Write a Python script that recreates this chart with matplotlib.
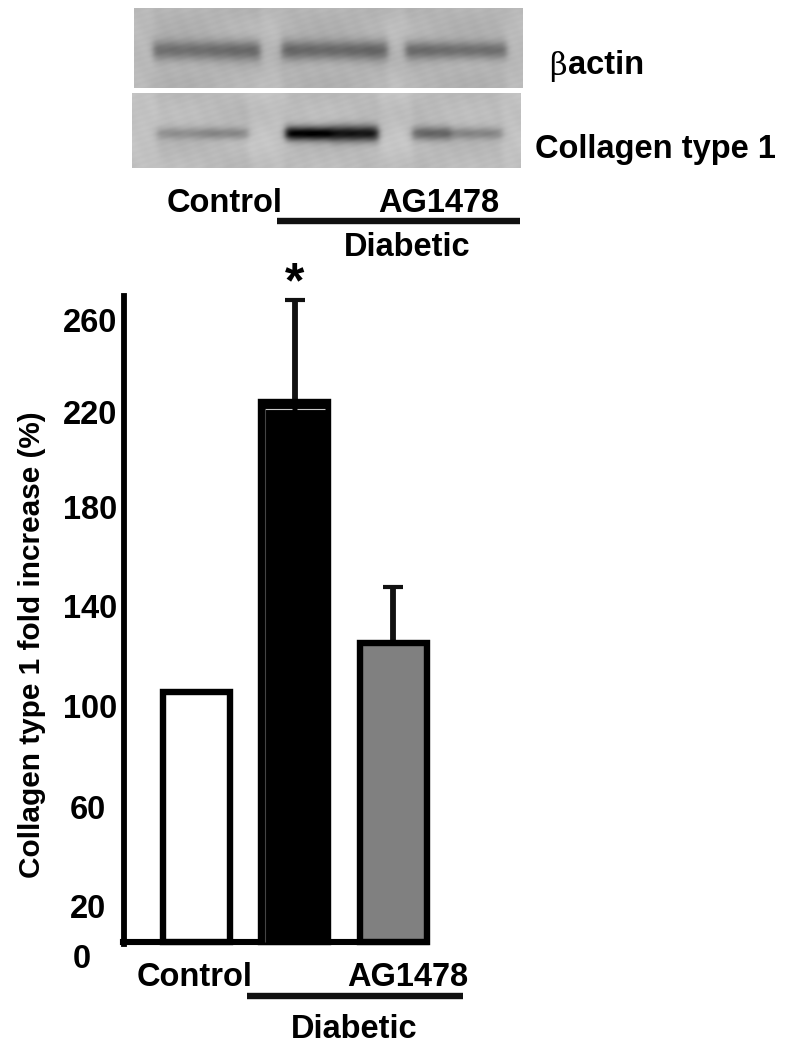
import numpy as np
import matplotlib
matplotlib.use("Agg")
import matplotlib.pyplot as plt

plt.rcParams["font.family"] = ["Liberation Sans", "DejaVu Sans"]
plt.rcParams["font.weight"] = "bold"

W, H = 789, 1050

# bar chart values
groups = ["Control", "Diabetic", "AG1478"]
values = [101.5, 219.5, 121.5]
errors = [0, 41.5, 23]
bar_colors = ["white", "black", "#808080"]

# tick labels are printed lower than their true height in the original
tick_labels = ["260", "220", "180", "140", "100", "60", "20", "0"]
tick_heights = [253, 215.3, 176.8, 136.5, 96, 54.8, 14.8, -5.5]
tick_pads = [24.8, 24.8, 24.8, 24.8, 24.8, 26.6, 26.6, 30.6]

# western blot lanes: start px, end px, darkness, band half height
actin_lanes = [(153, 260, 72, 10), (281, 387, 78, 10), (405, 506, 72, 9)]
collagen_lanes = [(157, 200, 40, 6), (200, 248, 52, 6), (285, 330, 185, 7), (330, 378, 165, 8),
                  (412, 450, 85, 7), (450, 502, 50, 6)]


def fx(px):
    return px / W


def fy(py):
    return 1 - py / H


def blot(x0, x1, y0, y1, lanes, band_y, bg, wash):
    # smooth grey panel with one dark band per lane
    xs = np.arange(x0, x1)
    ys = np.arange(y0, y1)
    xx, yy = np.meshgrid(xs, ys)
    img = np.full(xx.shape, float(bg))
    img += 5 * np.sin(xx / 23.0) * np.cos(yy / 9.0) + 3 * np.sin(xx / 3.1 + yy / 2.3) * np.cos(yy / 1.7)
    for a, b, dark, half in lanes:
        across = np.exp(-((yy - band_y) / half) ** 2)
        along = 0.5 * (np.tanh((xx - a) / 4.0) - np.tanh((xx - b) / 4.0))
        img -= (dark * across + wash) * along
    ax_b = fig.add_axes([fx(x0), fy(y1), fx(x1 - x0), (y1 - y0) / H])
    ax_b.imshow(img, cmap="gray", vmin=0, vmax=255, aspect="auto", interpolation="bilinear")
    ax_b.axis("off")


fig = plt.figure(figsize=(W / 100, H / 100), dpi=100, facecolor="white")

blot(134, 523, 8, 88, actin_lanes, 50, 186, 6)
blot(132, 521, 93, 168, collagen_lanes, 133, 194, 8)

# main axes, 0 sits on the baseline, 2.46 px per unit
ax = fig.add_axes([fx(124.5), 0, 1 - fx(124.5), 1])
ax.set_xlim((124.5 - 196) / 98.5, (W - 196) / 98.5)
ax.set_ylim(-(H - 942) / 2.46, 942 / 2.46)
ax.patch.set_alpha(0)

x = np.arange(len(groups))
ax.bar(x, values, width=67 / 98.5, color=bar_colors, edgecolor="black", linewidth=4.6, zorder=3)
ax.errorbar(x[1:], values[1:], yerr=[[0, 0], errors[1:]], fmt="none", ecolor="#111111",
            elinewidth=4.2, capsize=7.5, capthick=3, zorder=2)

# thin light line inside the black bar
ax.hlines(216.5, 0.70, 0.97, color="#c8c8c8", linewidth=0.8, zorder=4)
ax.hlines(216.5, 1.03, 1.31, color="#c8c8c8", linewidth=0.8, zorder=4)
ax.vlines(0.70, 0, 216.5, color="#444444", linewidth=0.8, zorder=4)

for s in ["top", "right"]:
    ax.spines[s].set_visible(False)
ax.spines["left"].set_linewidth(4.2)
ax.spines["left"].set_bounds(-1, 262.5)
ax.spines["bottom"].set_position(("data", 0))
ax.spines["bottom"].set_linewidth(4.4)
ax.spines["bottom"].set_bounds(ax.get_xlim()[0] - 0.02, 2.33)
ax.set_xticks([])
ax.set_yticks(tick_heights, tick_labels)
ax.tick_params(axis="y", length=0, labelsize=23.5)
for tick, pad in zip(ax.yaxis.get_major_ticks(), tick_pads):
    tick.set_pad(pad)
    tick.label1.set_ha("center")

# labels
fig.text(fx(32), fy(645), "Collagen type 1 fold increase (%)", rotation=90, fontsize=21.4, ha="center", va="center")
fig.text(fx(295), fy(284), "*", fontsize=36, ha="center", va="center")

for label, px, py in [("Control", 224.5, 204), ("AG1478", 439, 204), ("Diabetic", 407.5, 247),
                      ("Control", 194.5, 977), ("AG1478", 408, 977), ("Diabetic", 354, 1029),
                      ("Collagen type 1", 655, 150)]:
    fig.text(fx(px), fy(py), label, fontsize=23.5, ha="center", va="center")

fig.text(fx(549), fy(66), "β", fontsize=22, fontweight="normal", family="DejaVu Serif", ha="left", va="center")
fig.text(fx(568), fy(65), "actin", fontsize=23.5, ha="left", va="center")

# group lines under the labels
for x0, x1, py in [(277, 520, 221), (247, 463, 996)]:
    fig.add_artist(plt.Line2D([fx(x0), fx(x1)], [fy(py), fy(py)], color="#111111", linewidth=4.6, solid_capstyle="butt"))

fig.savefig("out.png", dpi=100)
